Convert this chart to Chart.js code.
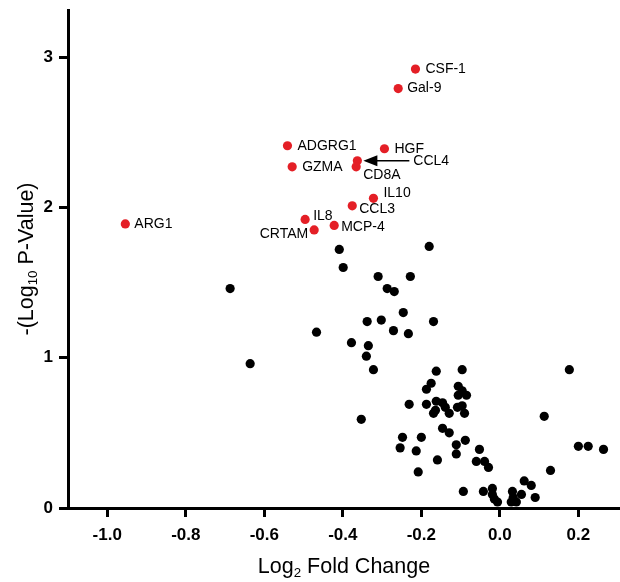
<!DOCTYPE html>
<html>
<head>
<meta charset="utf-8">
<script src="https://cdn.jsdelivr.net/npm/chart.js@4.4.1/dist/chart.umd.min.js"></script>
<style>
  html, body { margin: 0; padding: 0; background: #fff; overflow: hidden; }
  #wrap { width: 620px; height: 582px; position: relative; }
  #volcano { display: block; }
</style>
</head>
<body>
<div id="wrap"><canvas id="volcano"></canvas></div>
<script>
// labelled (significant) genes
const geneNames = ['CSF-1', 'Gal-9', 'ADGRG1', 'HGF', 'CCL4', 'CD8A', 'GZMA', 'IL10', 'CCL3', 'IL8', 'MCP-4', 'CRTAM', 'ARG1'];
const geneFC = [-0.215, -0.259, -0.541, -0.294, -0.363, -0.366, -0.529, -0.322, -0.376, -0.496, -0.422, -0.473, -0.954];
const geneP = [2.92, 2.79, 2.41, 2.39, 2.31, 2.27, 2.27, 2.06, 2.01, 1.92, 1.88, 1.85, 1.89];

// the rest
const otherFC = [
  -0.687, -0.636, -0.409, -0.180, -0.399, -0.310, -0.228, -0.287, -0.269, -0.246,
  -0.338, -0.302, -0.169, -0.271, -0.233, -0.467, -0.378, -0.335, -0.340, -0.322,
  -0.162, -0.096, 0.177, -0.175, -0.187, -0.106, -0.096, -0.106, -0.085, -0.231,
  -0.187, -0.162, -0.146, -0.139, -0.164, -0.169, -0.129, -0.108, -0.096, -0.090,
  0.113, -0.353, -0.146, -0.129, -0.248, -0.200, -0.254, -0.213, -0.111, -0.088,
  -0.111, -0.052, 0.200, 0.225, 0.264, -0.159, -0.060, -0.039, -0.029, -0.208,
  0.129, 0.062, 0.080, -0.093, -0.042, -0.019, -0.019, -0.014, -0.006, 0.032,
  0.034, 0.055, 0.090, 0.029, 0.042
];
const otherP = [
  1.46, 0.96, 1.72, 1.74, 1.60, 1.54, 1.54, 1.46, 1.44, 1.30,
  1.24, 1.25, 1.24, 1.18, 1.16, 1.17, 1.10, 1.08, 1.01, 0.92,
  0.91, 0.92, 0.92, 0.83, 0.79, 0.81, 0.78, 0.75, 0.75, 0.69,
  0.69, 0.71, 0.70, 0.67, 0.65, 0.63, 0.63, 0.67, 0.68, 0.63,
  0.61, 0.59, 0.53, 0.50, 0.47, 0.47, 0.40, 0.38, 0.42, 0.45,
  0.36, 0.39, 0.41, 0.41, 0.39, 0.32, 0.31, 0.31, 0.27, 0.24,
  0.25, 0.18, 0.15, 0.11, 0.11, 0.13, 0.09, 0.06, 0.04, 0.11,
  0.07, 0.09, 0.07, 0.04, 0.04
];

const xTicks = [-1.0, -0.8, -0.6, -0.4, -0.2, 0.0, 0.2];
const yTicks = [0, 1, 2, 3];

// label placement (pixel offsets from the point), kept apart from the data
const labelPos = {
  'CSF-1': [10, 0, 'left'], 'Gal-9': [9, 0, 'left'], 'ADGRG1': [10, 0, 'left'],
  'HGF': [10, 0, 'left'], 'CCL4': [56, 0, 'left'], 'CD8A': [7, 8, 'left'],
  'GZMA': [10, 0, 'left'], 'IL10': [10, -5, 'left'], 'CCL3': [7, 3, 'left'],
  'IL8': [8, -3, 'left'], 'MCP-4': [7, 2, 'left'], 'CRTAM': [-6, 4, 'right'],
  'ARG1': [9, 0, 'left']
};

const FONT = "'Liberation Sans', Arial, sans-serif";
const RED = '#e41f26';

function drawSub(ctx, parts, size) {
  // parts: [text, isSubscript]
  let w = 0;
  parts.forEach(p => {
    ctx.font = (p[1] ? size * 0.62 : size) + 'px ' + FONT;
    w += ctx.measureText(p[0]).width;
  });
  let x = -w / 2;
  parts.forEach(p => {
    ctx.font = (p[1] ? size * 0.62 : size) + 'px ' + FONT;
    ctx.fillText(p[0], x, p[1] ? size * 0.3 : 0);
    x += ctx.measureText(p[0]).width;
  });
}

const extras = {
  id: 'extras',
  afterDraw(chart) {
    const ctx = chart.ctx;
    const meta = chart.getDatasetMeta(0);
    ctx.save();
    ctx.fillStyle = '#000';
    ctx.textBaseline = 'middle';
    geneNames.forEach((name, i) => {
      const pt = meta.data[i];
      const pos = labelPos[name];
      ctx.font = '14px ' + FONT;
      ctx.textAlign = pos[2];
      ctx.fillText(name, pt.x + pos[0], pt.y + pos[1]);
      if (name === 'CCL4') {
        const y = pt.y;
        const tip = pt.x + 6;
        ctx.strokeStyle = '#000';
        ctx.lineWidth = 1.5;
        ctx.beginPath();
        ctx.moveTo(pt.x + pos[0] - 4, y);
        ctx.lineTo(tip + 10, y);
        ctx.stroke();
        ctx.beginPath();
        ctx.moveTo(tip, y);
        ctx.lineTo(tip + 14, y - 5.5);
        ctx.lineTo(tip + 14, y + 5.5);
        ctx.closePath();
        ctx.fill();
      }
    });

    // axis titles with subscripts
    ctx.textAlign = 'left';
    ctx.textBaseline = 'middle';
    ctx.save();
    ctx.translate(344, 567);
    drawSub(ctx, [['Log', false], ['2', true], [' Fold Change', false]], 21.5);
    ctx.restore();
    ctx.save();
    ctx.translate(27, 259);
    ctx.rotate(-Math.PI / 2);
    drawSub(ctx, [['-(Log', false], ['10', true], [' P-Value)', false]], 21.5);
    ctx.restore();
    ctx.restore();
  }
};

const axisStyle = {
  grid: { display: true, drawOnChartArea: false, drawTicks: true, tickLength: 9, tickWidth: 3, tickColor: '#000' },
  border: { display: true, color: '#000', width: 3 }
};

new Chart(document.getElementById('volcano'), {
  type: 'scatter',
  data: {
    datasets: [{
      data: geneFC.map((x, i) => ({ x: x, y: geneP[i] })),
      backgroundColor: RED,
      borderWidth: 0,
      pointRadius: 4.6,
      clip: false
    }, {
      data: otherFC.map((x, i) => ({ x: x, y: otherP[i] })),
      backgroundColor: '#000',
      borderWidth: 0,
      pointRadius: 4.6,
      clip: false
    }]
  },
  options: {
    responsive: true,
    maintainAspectRatio: false,
    animation: false,
    layout: { autoPadding: false, padding: { top: 10, right: 0, left: 0, bottom: 0 } },
    plugins: { legend: { display: false }, tooltip: { enabled: false } },
    scales: {
      x: {
        type: 'linear',
        min: -1.1,
        max: 0.306,
        afterBuildTicks: s => { s.ticks = xTicks.map(v => ({ value: v })); },
        afterFit: s => { s.height = 74; s.paddingRight = 0; s.paddingLeft = 0; },
        ticks: {
          color: '#000',
          padding: 8,
          font: { family: FONT, size: 17, weight: 'bold' },
          callback: v => v.toFixed(1)
        },
        ...axisStyle
      },
      y: {
        min: 0,
        max: 3.313,
        afterBuildTicks: s => { s.ticks = yTicks.map(v => ({ value: v })); },
        afterFit: s => { s.width = 68; s.paddingTop = 0; s.paddingBottom = 0; },
        ticks: {
          color: '#000',
          padding: 6,
          font: { family: FONT, size: 17, weight: 'bold' }
        },
        ...axisStyle
      }
    }
  },
  plugins: [extras]
});
</script>
</body>
</html>
